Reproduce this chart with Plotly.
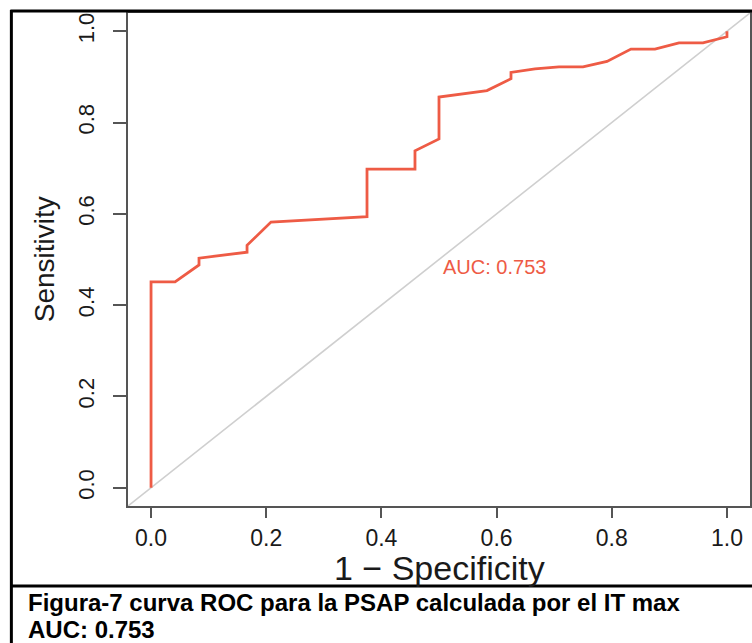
import plotly.graph_objects as go

# ROC curve points (1 - specificity, sensitivity)
fpr = [0.0, 0.0, 0.0417, 0.0833, 0.0833, 0.1667, 0.1667, 0.2083, 0.375, 0.375,
       0.4583, 0.4583, 0.5, 0.5, 0.5833, 0.625, 0.625, 0.6667, 0.7083, 0.75,
       0.7917, 0.8333, 0.875, 0.9167, 0.9583, 1.0, 1.0]
tpr = [0.0, 0.451, 0.451, 0.488, 0.503, 0.516, 0.531, 0.582, 0.594, 0.698,
       0.698, 0.738, 0.764, 0.856, 0.870, 0.896, 0.910, 0.9175, 0.922, 0.922,
       0.934, 0.961, 0.961, 0.9746, 0.9746, 0.988, 1.0]
chance = [-0.05, 1.05]
tick_vals = [0.0, 0.2, 0.4, 0.6, 0.8, 1.0]
tick_text = ["0.0", "0.2", "0.4", "0.6", "0.8", "1.0"]
auc_text = "AUC: 0.753"
caption_1 = "Figura-7 curva ROC para la PSAP calculada por el IT max"
caption_2 = "AUC: 0.753"

W, H = 752, 643
L, R, T, B = 128, 0, 13, 137
pw, ph = W - L - R, H - T - B


def px(x):
    return (x - L) / pw


def py(y):
    return (H - B - y) / ph


RED = "#EE5B45"
AX = "#555555"
TXT = "#1a1a1a"
FONT = "Liberation Sans, Arial, Helvetica, sans-serif"

fig = go.Figure()
fig.add_trace(go.Scatter(x=chance, y=chance, mode="lines",
                         line=dict(color="#CFCFCF", width=1.6),
                         hoverinfo="skip", showlegend=False))
fig.add_trace(go.Scatter(x=fpr, y=tpr, mode="lines",
                         line=dict(color=RED, width=2.8),
                         showlegend=False))

axis_common = dict(
    tickmode="array", tickvals=tick_vals, ticktext=tick_text,
    showgrid=False, zeroline=False,
    showline=True, mirror=True, linecolor=AX, linewidth=2,
    ticks="outside", tickcolor=AX, tickwidth=1.5,
)

fig.update_xaxes(range=[-0.04, 1.04], ticklen=10, ticklabelstandoff=0,
                 tickfont=dict(family=FONT, size=23, color=TXT), **axis_common)
fig.update_yaxes(range=[-0.04, 1.04], ticklen=13, tickangle=-90,
                 ticklabelstandoff=10,
                 tickfont=dict(family=FONT, size=22, color=TXT), **axis_common)

ann = [
    dict(text="1 − Specificity", x=0.5, y=py(568), xref="paper", yref="paper",
         showarrow=False, xanchor="center", yanchor="middle",
         font=dict(family=FONT, size=34, color=TXT)),
    dict(text="Sensitivity", x=px(44), y=py(259), xref="paper", yref="paper",
         showarrow=False, xanchor="center", yanchor="middle", textangle=-90,
         font=dict(family=FONT, size=28, color=TXT)),
    dict(text=auc_text, x=0.597, y=0.484, xref="x", yref="y",
         showarrow=False, xanchor="center", yanchor="middle",
         font=dict(family=FONT, size=20, color=RED)),
    dict(text="<b>" + caption_1 + "</b>", x=px(26), y=py(602), xref="paper", yref="paper",
         showarrow=False, xanchor="left", yanchor="middle",
         font=dict(family=FONT, size=24, color="#000000")),
    dict(text="<b>" + caption_2 + "</b>", x=px(26), y=py(629), xref="paper", yref="paper",
         showarrow=False, xanchor="left", yanchor="middle",
         font=dict(family=FONT, size=24, color="#000000")),
]

shapes = [
    # outer frame top
    dict(type="line", xref="paper", yref="paper", x0=px(10), x1=px(760), y0=py(11), y1=py(11),
         line=dict(color="black", width=3)),
    # outer frame left
    dict(type="line", xref="paper", yref="paper", x0=px(11), x1=px(11), y0=py(10), y1=py(650),
         line=dict(color="black", width=3)),
    # caption separator
    dict(type="line", xref="paper", yref="paper", x0=px(10), x1=px(760), y0=py(586), y1=py(586),
         line=dict(color="black", width=3)),
]

fig.update_layout(
    width=W, height=H,
    margin=dict(l=L, r=R, t=T, b=B, pad=0),
    paper_bgcolor="white", plot_bgcolor="white",
    annotations=ann, shapes=shapes,
    showlegend=False,
)

fig.write_html("out.html", config={"displayModeBar": False},
               post_script="document.body.style.margin='0';")
